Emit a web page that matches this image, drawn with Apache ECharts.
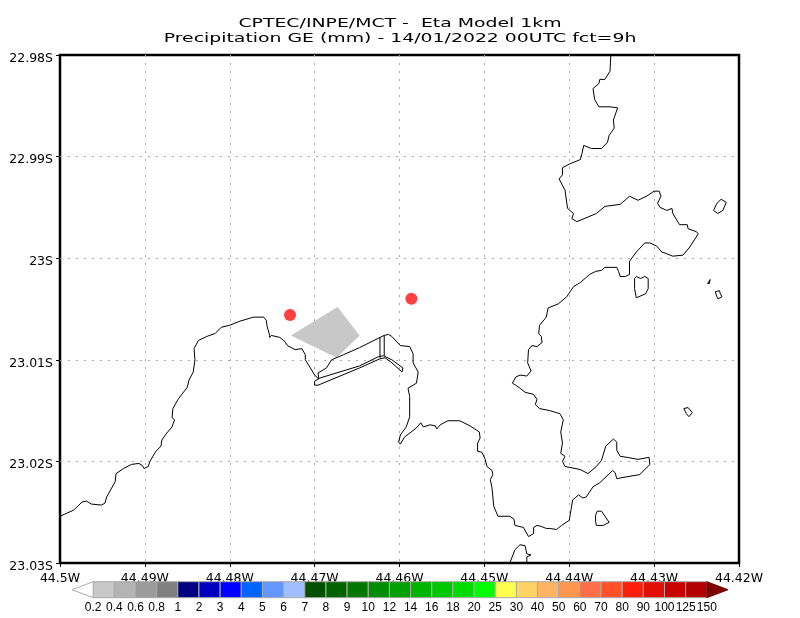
<!DOCTYPE html>
<html>
<head>
<meta charset="utf-8">
<style>html,body{margin:0;padding:0;background:#fff}#c{width:800px;height:618px}</style>
<script src="https://cdn.jsdelivr.net/npm/echarts@6/dist/echarts.min.js"></script>
</head>
<body>
<div id="c"></div>
<script>
// Geographic values are thousandths of a degree east of 44.5W and south of 22.98S
var mainCoast = [[0,45.4],[1.6,44.8],[2.6,44.0],[3.1,43.9],[3.7,44.2],[4.9,44.3],[5.3,44.1],[5.5,43.5],[6.5,42.0],[6.6,41.2],[7.5,40.7],[8.4,40.3],[9.3,40.2],[9.7,40.4],[9.9,40.7],[10.4,40.5],[10.6,40.0],[11.3,39.0],[11.9,38.5],[12.0,37.9],[12.5,37.3],[13.2,36.6],[13.5,35.9],[13.2,35.7],[13.3,34.8],[13.9,33.9],[15.0,32.7],[15.2,32.0],[15.7,31.2],[15.9,30.0],[15.8,28.9],[16.3,28.1],[17.3,27.7],[18.3,27.4],[19.0,26.8],[20.0,26.6],[21.2,26.2],[22.8,25.8],[24.0,25.8],[24.3,26.1],[24.4,26.7],[24.7,27.6],[24.7,27.8],[24.9,27.6],[25.9,27.8],[26.5,28.2],[26.8,28.6],[27.7,29.0],[28.5,28.9],[28.9,29.5],[28.9,30.0],[29.5,30.8],[30.0,31.5],[30.5,31.9],[30.4,31.3],[31.4,30.8],[32.0,30.0],[33.4,29.5],[35.3,28.8],[37.7,27.8],[38.2,27.6],[38.7,27.5],[39.1,27.7],[40.1,28.6],[41.2,28.7],[41.6,29.4],[41.6,30.3],[42.2,31.2],[42.0,32.3],[41.0,32.8],[41.2,33.6],[41.2,35.6],[40.8,36.6],[40.1,37.4],[39.9,38.1],[40.1,38.3],[40.6,37.6],[42.0,36.7],[42.5,36.2],[42.8,36.6],[43.6,36.4],[44.2,36.5],[44.4,36.8],[44.8,36.4],[45.7,36.0],[47.1,36.0],[48.3,36.5],[49.4,37.1],[49.5,37.7],[49.2,38.2],[49.2,39.0],[49.7,39.1],[50.1,39.8],[50.3,40.5],[50.9,40.9],[51.0,41.3],[50.7,41.8],[50.9,42.6],[51.1,44.4],[51.6,45.4],[53.0,45.4],[53.5,45.7],[53.6,46.3],[54.6,46.5],[55.2,47.4],[55.8,47.1],[55.8,46.5],[56.2,46.3],[56.7,46.4],[57.3,46.6],[57.7,46.6],[58.5,46.7],[59.1,46.3],[60.0,45.8],[60.2,44.8],[60.4,43.8],[61.1,43.3],[61.6,43.6],[62.0,43.5],[62.8,42.5],[63.6,42.1],[65.1,40.9],[65.4,41.1],[65.6,41.7],[66.2,41.6],[68.3,41.3],[69.5,40.3],[69.4,39.6],[68.1,39.8],[66.8,39.6],[66.0,39.5],[65.6,38.9],[65.6,38.1],[65.2,37.8],[64.3,38.5],[63.8,39.9],[63.2,40.5],[62.2,41.2],[61.3,40.8],[59.5,40.5],[59.2,40.0],[59.5,39.5],[59.0,39.2],[59.2,38.2],[59.0,37.1],[59.3,35.9],[58.9,35.3],[57.7,35.0],[56.5,34.8],[56.0,34.4],[56.2,33.9],[55.8,33.4],[54.8,33.2],[54.2,32.8],[53.7,32.5],[53.3,32.3],[53.7,31.7],[54.2,31.5],[55.0,31.6],[55.5,31.1],[55.1,30.3],[55.2,29.0],[55.6,28.6],[56.2,28.7],[56.8,28.3],[56.7,27.7],[56.4,27.4],[56.5,26.6],[57.3,25.8],[57.5,24.9],[58.7,24.5],[59.7,23.8],[60.5,22.8],[61.3,22.4],[62.4,21.6],[63.1,21.3],[63.8,21.2],[64.2,20.9],[65.6,20.9],[65.8,21.3],[66.0,21.8],[66.6,21.8],[67.1,21.6],[67.1,20.3],[67.9,19.4],[68.9,18.5],[69.5,18.5],[70.3,18.8],[70.9,19.4],[71.3,19.5],[72.2,19.8],[73.4,19.7],[74.2,18.9],[75.2,17.6],[75.0,17.4],[74.0,17.1],[73.9,16.7],[73.0,16.7],[72.2,15.6],[72.1,15.1],[71.5,15.3],[70.7,15.0],[70.4,14.6],[70.8,13.9],[70.6,13.4],[70.0,13.4],[69.1,13.9],[68.1,14.3],[67.1,13.9],[66.0,14.7],[64.2,14.9],[63.2,15.6],[60.9,16.4],[60.3,16.1],[60.5,15.6],[59.8,15.1],[59.5,13.3],[58.8,12.2],[59.2,11.8],[59.2,11.1],[60.1,10.7],[61.3,10.3],[61.5,9.7],[61.7,8.9],[62.6,9.2],[63.8,9.2],[64.5,8.6],[64.7,7.9],[65.3,7.2],[65.2,6.4],[65.7,5.2],[64.8,5.1],[63.5,5.1],[63.0,4.4],[62.8,3.3],[63.5,2.8],[63.6,2.4],[64.2,2.4],[64.8,1.6],[64.9,0]];
var harbourOutline = [[30.0,32.1],[30.6,31.8],[35.3,30.6],[37.5,29.7],[38.1,29.6],[39.1,30.0],[40.4,30.8],[40.3,31.2],[39.1,30.3],[38.3,29.8],[37.7,29.9],[35.3,30.8],[30.4,32.5],[30.0,32.5],[30.0,32.1]];
var harbourWallA = [[37.7,27.8],[37.7,29.8]];
var harbourWallB = [[38.2,27.6],[38.2,29.6]];
var islandA = [[63.1,45.3],[63.3,44.9],[63.8,44.9],[64.7,46.0],[64.0,46.3],[63.2,46.3],[63.1,45.9],[63.1,45.3]];
var islandB = [[53.0,50],[53.6,48.7],[54.2,48.2],[54.8,48.3],[55.0,49.1],[55.5,49.2],[55.0,49.4],[55.0,50]];
var islandC = [[67.7,22.0],[67.9,21.8],[68.4,22.0],[68.9,21.8],[69.3,22.0],[69.3,23.0],[69.0,23.5],[67.9,23.9],[67.7,23.0],[67.7,22.0]];
var islandD = [[76.3,22.5],[76.6,22.1],[76.8,22.2],[76.5,22.5],[76.3,22.5]];
var islandE = [[77.2,23.3],[77.7,23.2],[77.8,23.5],[78.0,23.8],[77.5,24.0],[77.4,23.8],[77.2,23.3]];
var islandF = [[73.5,34.8],[74.0,34.7],[74.5,35.2],[74.1,35.6],[73.8,35.3],[73.5,34.8]];
var islandG = [[77.0,15.3],[77.4,14.6],[77.9,14.2],[78.5,14.5],[78.1,15.3],[77.5,15.6],[77.0,15.3]];
var rainPolygon = [[27.2,27.6],[32.7,24.8],[35.3,27.6],[32.6,29.8]];
var redPoints = [[27.1,25.6],[41.4,24.0]];
var colorbarLabels = ['0.2','0.4','0.6','0.8','1','2','3','4','5','6','7','8','9','10','12','14','16','18','20','25','30','40','50','60','70','80','90','100','125','150'];
var colorbarColors = ['#c8c8c8','#b4b4b4','#9b9b9b','#808080','#000080','#0000c0','#0000ff','#0064ff','#6496ff','#a0beff','#005000','#006400','#007800','#008c00','#00a000','#00b400','#00c800','#00dc00','#00ff00','#ffff50','#ffd264','#ffb464','#ff9650','#ff6e46','#ff5028','#ff1e0a','#e10f05','#c80000','#b40000'];
var titleLines = ['CPTEC/INPE/MCT -  Eta Model 1km','Precipitation GE (mm) - 14/01/2022 00UTC fct=9h'];

function geo(p){ return [-44.5 + p[0]/1000, -22.98 - p[1]/1000]; }
function lineSeries(points){
  return {type:'line',xAxisIndex:0,yAxisIndex:0,data:points.map(geo),showSymbol:false,symbol:'none',silent:true,
    lineStyle:{color:'#000',width:1},z:4};
}
var FONT='"DejaVu Sans"';
var option={
  animation:false,
  backgroundColor:'#fff',
  grid:[
    {left:60,top:55,width:679,height:508,show:true,borderColor:'#000',borderWidth:2.5,backgroundColor:'#fff'},
    {left:72,top:581.7,width:656,height:16}
  ],
  xAxis:[
    {gridIndex:0,type:'value',min:-44.5,max:-44.42,interval:0.01,
     axisLine:{show:false},axisTick:{show:true,length:4,lineStyle:{color:'#000',width:1}},
     axisLabel:{margin:9,color:'#000',fontFamily:FONT,fontSize:12.5,formatter:function(v){return parseFloat(Math.abs(v).toFixed(2))+'W';}},
     splitLine:{show:true,showMinLine:false,showMaxLine:false,lineStyle:{color:'#a8a8a8',width:1,type:[2,6]}}},
    {gridIndex:1,type:'value',min:-1,max:30,interval:1,
     axisLine:{show:false},axisTick:{show:false},splitLine:{show:false},
     axisLabel:{margin:4,color:'#000',fontFamily:'"Liberation Sans"',fontSize:12,hideOverlap:false,
       formatter:function(v){var s=colorbarLabels[v];return s===undefined?'':s;}}}
  ],
  yAxis:[
    {gridIndex:0,type:'value',min:-23.03,max:-22.98,interval:0.01,
     axisLine:{show:false},axisTick:{show:true,length:4,lineStyle:{color:'#000',width:1}},
     axisLabel:{margin:7,color:'#000',fontFamily:FONT,fontSize:12.5,
       formatter:function(v){return '{a|'+parseFloat(Math.abs(v).toFixed(2))+'S}';},
       rich:{a:{color:'#000',fontFamily:FONT,fontSize:12.5,padding:[7,0,0,0]}}},
     splitLine:{show:true,showMinLine:false,showMaxLine:false,lineStyle:{color:'#a8a8a8',width:1,type:[2,6]}}},
    {gridIndex:1,type:'value',min:0,max:1,show:false}
  ],
  graphic:[
    {type:'text',x:400,y:24,scaleX:1.45,style:{text:titleLines[0],font:'13px "DejaVu Sans"',fill:'#000',textAlign:'center',textVerticalAlign:'middle'}},
    {type:'text',x:400,y:39,scaleX:1.45,style:{text:titleLines[1],font:'13px "DejaVu Sans"',fill:'#000',textAlign:'center',textVerticalAlign:'middle'}}
  ],
  series:[
    {type:'custom',xAxisIndex:0,yAxisIndex:0,silent:true,z:3,clip:true,
     data:rainPolygon.map(geo),
     renderItem:function(params,api){
       if(params.dataIndex!==0) return null;
       var pts=rainPolygon.map(function(p){return api.coord(geo(p));});
       return {type:'polygon',shape:{points:pts},style:{fill:'#c8c8c8'}};
     }},
    lineSeries(mainCoast),lineSeries(harbourOutline),lineSeries(harbourWallA),lineSeries(harbourWallB),
    lineSeries(islandA),lineSeries(islandB),lineSeries(islandC),lineSeries(islandD),lineSeries(islandE),lineSeries(islandF),lineSeries(islandG),
    {type:'scatter',xAxisIndex:0,yAxisIndex:0,data:redPoints.map(geo),symbol:'circle',symbolSize:12,silent:true,
     itemStyle:{color:'#ff4040',opacity:1},z:5},
    {type:'custom',xAxisIndex:1,yAxisIndex:1,silent:true,z:3,clip:false,
     data:colorbarColors.map(function(c,i){return [i,0];}),
     renderItem:function(params,api){
       var i=api.value(0);
       var a=api.coord([i,1]), b=api.coord([i+1,0]);
       return {type:'rect',shape:{x:a[0],y:a[1],width:b[0]-a[0],height:b[1]-a[1]},
         style:{fill:colorbarColors[i],stroke:'#aaaaaa',lineWidth:1}};
     }},
    {type:'custom',xAxisIndex:1,yAxisIndex:1,silent:true,z:3,clip:false,
     data:[[-1,0],[29,0]],
     renderItem:function(params,api){
       var left=params.dataIndex===0;
       var base=left?0:29, tip=left?-1:30;
       var pts=[api.coord([base,1]),api.coord([base,0]),api.coord([tip,0.5])];
       return {type:'polygon',shape:{points:pts},style:{fill:left?'#ffffff':'#800000',stroke:left?'#aaaaaa':'#800000',lineWidth:1}};
     }}
  ]
};
var chart=echarts.init(document.getElementById('c'),null,{renderer:'canvas'});
chart.setOption(option);
</script>
</body>
</html>
